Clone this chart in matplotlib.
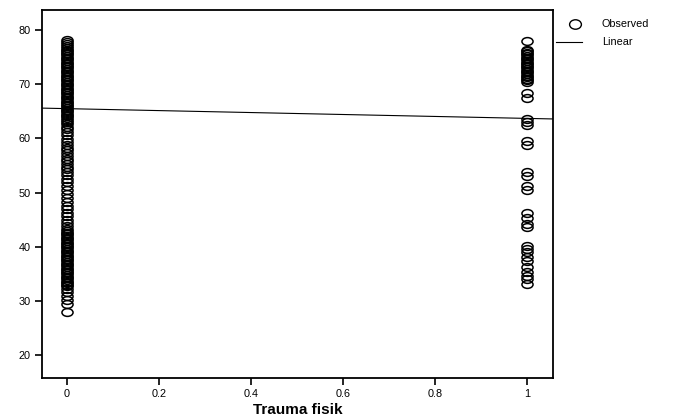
import matplotlib
matplotlib.use("Agg")
import matplotlib.pyplot as plt
from matplotlib.path import Path
from matplotlib.transforms import Affine2D
from matplotlib.lines import Line2D

plt.rcParams['font.family'] = ['Liberation Sans', 'DejaVu Sans']

# Observed values, group Trauma fisik = 0
obs_x0 = [28.0, 29.5, 30.2, 30.9, 31.6, 32.2, 32.7, 33.0, 33.3, 33.6, 33.9, 34.2, 34.5,
          34.8, 35.1, 35.4, 35.7, 36.0, 36.3, 36.6, 36.9, 37.2, 37.5, 37.8, 38.1, 38.4,
          38.7, 39.0, 39.3, 39.6, 39.9, 40.2, 40.5, 40.8, 41.1, 41.4, 41.7, 42.0, 42.3,
          42.6, 42.9, 43.3, 43.8, 44.4, 45.0, 45.7, 46.3, 47.0, 47.6, 48.3, 49.0, 49.7,
          50.4, 51.2, 52.0, 52.6, 53.2, 53.8, 54.3, 54.8, 55.3, 55.8, 56.3, 56.8, 57.3,
          57.8, 58.3, 58.8, 59.3, 59.9, 60.6, 61.2, 61.8, 62.2, 62.6, 63.0, 63.4, 63.8,
          64.1, 64.4, 64.7, 65.0, 65.3, 65.6, 65.9, 66.2, 66.5, 66.8, 67.1, 67.4, 67.7,
          68.0, 68.3, 68.6, 68.9, 69.2, 69.5, 69.8, 70.1, 70.4, 70.7, 71.0, 71.3, 71.6,
          71.9, 72.2, 72.5, 72.8, 73.1, 73.4, 73.7, 74.0, 74.3, 74.6, 74.9, 75.2, 75.5,
          75.8, 76.1, 76.4, 76.7, 77.0, 77.4, 77.8, 78.1]
# Observed values, group Trauma fisik = 1
obs_x1 = [78.0, 76.4, 76.1, 75.8, 75.5, 75.2, 74.9, 74.6, 74.3, 74.0, 73.7, 73.4, 73.1,
          72.8, 72.5, 72.2, 71.9, 71.6, 71.3, 71.0, 70.7, 70.4, 68.3, 67.5, 63.6, 63.0,
          62.4, 59.5, 58.7, 53.8, 53.0, 51.3, 50.5, 46.2, 45.3, 44.2, 43.6, 40.2, 39.6,
          39.0, 38.2, 37.3, 36.2, 35.3, 34.7, 34.1, 33.2]

group_values = [0, 1]
# Linear fit
fit_intercept = 65.5
fit_slope = -1.8

x_ticks = [0, 0.2, 0.4, 0.6, 0.8, 1]
x_tick_labels = ["0", "0.2", "0.4", "0.6", "0.8", "1"]
y_ticks = [20, 30, 40, 50, 60, 70, 80]
x_label = "Trauma fisik"
legend_labels = ["Observed", "Linear"]

W, H = 677, 419
fig = plt.figure(figsize=(6.77, 4.19), dpi=100)
ax = fig.add_axes([42/W, 41/H, (553-42)/W, (378-10)/H])

ell = Path.unit_circle().transformed(Affine2D().scale(1.0, 0.7))
mstyle = dict(linestyle='none', marker=ell, markersize=8.0, markerfacecolor='none',
              markeredgecolor='black', markeredgewidth=1.1)

ax.plot([group_values[0]] * len(obs_x0), obs_x0, **mstyle)
ax.plot([group_values[1]] * len(obs_x1), obs_x1, **mstyle)
ax.axline((0, fit_intercept), slope=fit_slope, color='black', linewidth=0.8)

ax.set_xlim(-0.054, 1.057)
ax.set_ylim(15.8, 83.7)
ax.set_xticks(x_ticks)
ax.set_xticklabels(x_tick_labels)
ax.set_yticks(y_ticks)
ax.tick_params(direction='out', length=5, width=1.2, labelsize=7.8, color='black', pad=3)
for s in ax.spines.values():
    s.set_linewidth(1.3)
ax.set_xlabel(x_label, fontsize=11, fontweight='bold', labelpad=3)

# Legend (outside the axes, top right)
circ = Path.unit_circle().transformed(Affine2D().scale(1.0, 0.8))
fig.add_artist(Line2D([575/W], [1 - 24/H], transform=fig.transFigure, linestyle='none',
                      marker=circ, markersize=8.5, markerfacecolor='none',
                      markeredgecolor='black', markeredgewidth=1.0))
fig.add_artist(Line2D([556/W, 582/W], [1 - 42/H, 1 - 42/H], transform=fig.transFigure,
                      color='black', linewidth=0.8))
fig.text(602/W, 1 - 24/H, legend_labels[0], fontsize=7.8, va='center', ha='left')
fig.text(602/W, 1 - 42/H, legend_labels[1], fontsize=7.8, va='center', ha='left')

fig.savefig("out.png", dpi=100)
